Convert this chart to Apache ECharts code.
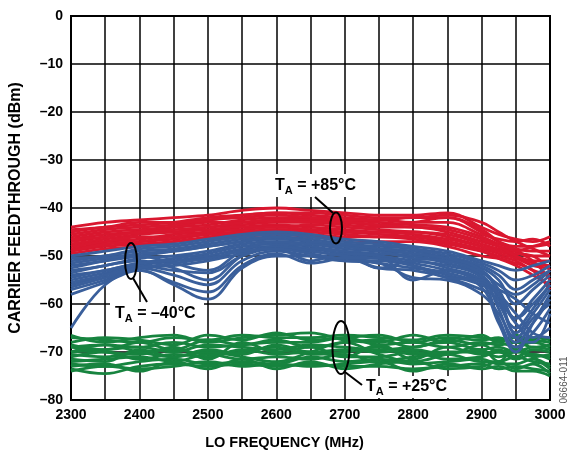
<!DOCTYPE html>
<html>
<head>
<meta charset="utf-8">
<script src="https://cdn.jsdelivr.net/npm/echarts@6/dist/echarts.min.js"></script>
<style>html,body{margin:0;padding:0;background:#fff}#c{width:569px;height:456px}</style>
</head>
<body>
<div id="c"></div>
<script>
// LO frequency sample points (MHz)
const freqs = [2300,2350,2400,2450,2500,2550,2600,2650,2700,2750,2800,2850,2900,2925,2950,2975,3000];
const xTicks = [2300,2400,2500,2600,2700,2800,2900,3000];
const yTicks = [0,-10,-20,-30,-40,-50,-60,-70,-80];

// TA = +85°C curves (dBm)
const hot = [
 [-44,-43,-42.5,-42,-41.5,-40.5,-40,-40.5,-41,-41.5,-41.5,-41,-44,-45.5,-46.5,-47,-46],
 [-45,-44,-43.5,-43,-42,-41.5,-41,-41.5,-42,-42.5,-42,-42,-45,-47,-48,-48,-47.5],
 [-46,-45,-44.5,-44,-43.5,-42.5,-42,-42,-42.5,-43,-43.5,-44,-46,-47.5,-48.5,-49,-49],
 [-47,-46,-45,-45,-44,-43.5,-43,-43,-43.5,-44,-44,-45,-47,-48,-49,-50,-50],
 [-48,-47,-46.5,-45.5,-45,-44,-43.5,-44,-44.5,-45,-45,-46,-48,-49,-50,-51,-51],
 [-48.5,-47.5,-47,-46.5,-45.5,-45,-44.5,-44.5,-45,-45.5,-46,-47,-48.5,-49.5,-50.5,-52,-52.5],
 [-49,-48,-47.5,-47,-46,-45.5,-45,-45.5,-46,-46,-46.5,-47.5,-49,-50,-51,-53,-54],
 [-49.5,-48.5,-48,-47,-46.5,-46,-45.5,-46,-46.5,-47,-47,-48,-50,-50.5,-51.5,-53,-57],
 [-46.5,-45.5,-45,-44,-43,-43,-42.5,-42.5,-43,-43.5,-43,-42,-44.5,-47,-49,-51,-55],
 [-47.5,-46.5,-45.5,-45,-44.5,-44,-44,-43.5,-44,-44.5,-45,-45.5,-47.5,-48.5,-49,-48,-47],
 [-45.5,-44.5,-44,-43.5,-42.5,-42,-41.5,-42,-42.5,-42.5,-43,-43,-45.5,-46.5,-47,-46.5,-48],
 [-48,-47,-46,-46,-45,-44.5,-44,-44.5,-45,-45,-45.5,-46.5,-48,-49,-49.5,-50,-53],
 [-44.5,-44,-43,-43,-42.5,-41.5,-41,-41,-41.5,-42,-42,-41.5,-43,-45,-47,-48.5,-50],
 [-46.5,-46,-45,-44.5,-44,-43,-42.5,-43,-43,-43.5,-44,-44.5,-46.5,-48,-50,-51.5,-52],
 [-49,-47.5,-47,-46,-45.5,-45,-44.5,-45,-45.5,-46,-46,-47,-49,-50.5,-52,-54,-56]
];

// TA = -40°C curves (dBm)
const cold = [
 [-50,-49,-48,-47.5,-46.5,-45.5,-45,-45.5,-46.5,-47,-48,-49,-51,-52,-53,-52,-51],
 [-51,-50,-49,-48.5,-47.5,-46.5,-46,-46.5,-47.5,-48,-48.5,-49.5,-51.5,-53,-55,-54,-52],
 [-52,-51,-50,-49,-48,-47,-46.5,-47,-48,-48.5,-49,-50.5,-52.5,-55,-60,-57,-54],
 [-53,-52,-50.5,-50,-49,-47.5,-47,-47.5,-48.5,-49,-49.5,-51,-53,-57,-63,-59,-55],
 [-54,-53,-51.5,-50.5,-49.5,-48,-47.5,-48,-49,-49.5,-50,-51.5,-54,-59,-66,-62,-57],
 [-55,-53.5,-52,-51,-50,-48.5,-48,-48.5,-49.5,-50,-51,-52,-54.5,-61,-68,-64,-59],
 [-56,-54,-52,-53,-53.5,-50,-48.5,-49,-50,-50.5,-51.5,-53,-55.5,-63,-69,-66,-61],
 [-57,-55,-52.5,-54,-56,-51,-49,-50,-51,-51,-52,-54,-56,-58,-62,-66,-67],
 [-58,-55.5,-53,-55.5,-57.5,-52,-49.5,-51.5,-50.5,-52.5,-53,-54.5,-57,-59,-64,-67,-65],
 [-65,-56,-53,-56,-59,-52.5,-50,-50,-51,-51.5,-54.5,-55,-58,-62,-67,-63,-60],
 [-52.5,-51,-50,-51.5,-53,-49,-47,-47.5,-48,-49,-50.5,-51,-53.5,-56,-58,-56,-53],
 [-53.5,-52,-51,-52.5,-55,-50,-48,-48.5,-49,-52.5,-51,-52.5,-55,-60,-65,-61,-56],
 [-50.5,-50,-48.5,-48,-47,-46,-45.5,-46,-47,-47.5,-48.5,-50,-52,-54,-57,-55,-53],
 [-54.5,-53,-51.5,-51,-50.5,-49,-48.5,-51,-49.5,-50,-55,-53,-55.5,-57,-59,-62,-64],
 [-51.5,-50.5,-49.5,-49,-48,-47,-46,-47,-47.5,-48.5,-49.5,-50.5,-53,-58,-67,-68,-62],
 [-56.5,-54.5,-52.5,-52,-51,-49.5,-48,-49,-50,-51.5,-52.5,-53.5,-56.5,-64,-70,-64,-58],
 [-55.5,-54,-52.5,-51.5,-50.5,-49,-48.5,-49.5,-50.5,-50.5,-52,-54.5,-55,-58,-63,-60,-56]
];

// TA = +25°C curves (dBm)
const room = [
 [-67,-67.5,-68,-67,-67.5,-66.5,-67,-67,-66.5,-67,-67.5,-66.5,-67,-67.5,-67,-67.5,-68],
 [-68,-67,-67.5,-68.5,-66.5,-67.5,-66,-67.5,-67,-66.5,-68,-67,-67.5,-67,-68,-67,-67.5],
 [-69,-68.5,-69,-68,-69,-68.5,-68,-68,-67,-68.5,-68,-69,-68,-68.5,-68,-69,-68.5],
 [-70,-69.5,-69,-70,-68.5,-69,-69.5,-68.5,-69,-69.5,-69,-68,-69.5,-69,-70,-69,-69.5],
 [-70.5,-71,-70,-69.5,-70.5,-70,-69,-70.5,-70,-69,-70.5,-70,-70,-71,-70,-70.5,-71],
 [-71,-70,-71.5,-70.5,-71,-69.5,-70.5,-70,-71,-71,-70,-71.5,-71,-70,-71.5,-70.5,-71.5],
 [-72,-71.5,-71,-72,-70.5,-71.5,-71,-71.5,-70.5,-72,-71,-70.5,-72,-72,-71,-72,-72.5],
 [-72.5,-73,-72,-71.5,-72.5,-72,-72.5,-71,-72,-71.5,-72.5,-72,-71.5,-72.5,-72.5,-71.5,-73],
 [-73.5,-74.5,-73,-72.5,-73,-72.5,-73,-72.5,-73,-73,-73.5,-73,-72.5,-73.5,-73,-73.5,-74],
 [-74,-73,-73.5,-73,-72,-73,-72.5,-73,-72.5,-72,-74,-72.5,-73.5,-73,-74,-74,-75],
 [-69,-70,-70.5,-69,-71.5,-68,-70,-69,-71,-68.5,-71.5,-69,-70.5,-69.5,-71,-69.5,-70],
 [-71.5,-72,-69.5,-71,-70,-71,-72,-70,-68,-70.5,-72,-70.5,-69.5,-72,-69,-71,-73.5],
 [-66.5,-68,-67,-66.5,-68,-67,-66.5,-66,-67.5,-68,-66.5,-68,-66.5,-68,-66.5,-68,-67],
 [-68.5,-69.5,-68,-69.5,-67.5,-68.5,-67.5,-69,-68,-67.5,-69,-67.5,-68.5,-68,-69,-68,-69],
 [-73,-72.5,-74,-72,-73.5,-71.5,-73.5,-72,-73.5,-72.5,-72,-73.5,-73,-72,-73.5,-72.5,-74.5],
 [-70,-68.5,-70,-71,-69.5,-70.5,-68.5,-70,-69.5,-70,-69.5,-70.5,-68.5,-70,-69.5,-71,-70.5]
];

const FONT = '"Liberation Sans", Arial, Helvetica, sans-serif';
const RED = '#d9172f', BLUE = '#3a5f9b', GREEN = '#17843f';

function mk(group, color) {
  return group.map(vals => ({
    type: 'line',
    data: vals.map((v, i) => [freqs[i], v]),
    showSymbol: false,
    smooth: 0.4,
    lineStyle: { color: color, width: 2.8 },
    silent: true,
    animation: false
  }));
}

const series = [].concat(mk(room, GREEN), mk(hot, RED), mk(cold, BLUE));

function tLabel(x, y, rest) {
  return {
    type: 'text', x: x, y: y, z: 100,
    style: {
      text: '{a|T}{b|A}{a|' + rest + '}',
      fill: '#000',
      verticalAlign: 'middle',
      rich: {
        a: { fontFamily: FONT, fontWeight: 'bold', fontSize: 16, fill: '#000' },
        b: { fontFamily: FONT, fontWeight: 'bold', fontSize: 11, fill: '#000', padding: [9, 0, 0, 0] }
      }
    }
  };
}

const chart = echarts.init(document.getElementById('c'), null, { renderer: 'canvas' });
chart.setOption({
  animation: false,
  backgroundColor: '#fff',
  grid: { left: 71, right: 19, top: 16, bottom: 56, show: true, borderColor: '#000', borderWidth: 2, backgroundColor: 'transparent' },
  xAxis: {
    type: 'value', min: 2300, max: 3000, interval: 50,
    axisLine: { show: false },
    axisTick: { show: false },
    splitLine: { show: true, lineStyle: { color: '#000', width: 1.5 } },
    axisLabel: {
      margin: 8, color: '#000', fontFamily: FONT, fontWeight: 'bold', fontSize: 14,
      formatter: v => xTicks.indexOf(v) >= 0 ? String(v) : ''
    }
  },
  yAxis: {
    type: 'value', min: -80, max: 0, interval: 10,
    axisLine: { show: false },
    axisTick: { show: false },
    splitLine: { show: true, lineStyle: { color: '#000', width: 1.5 } },
    axisLabel: {
      margin: 8, color: '#000', fontFamily: FONT, fontWeight: 'bold', fontSize: 14,
      formatter: v => yTicks.indexOf(v) >= 0 ? (v < 0 ? '\u2013' + Math.abs(v) : String(v)) : ''
    }
  },
  series: series,
  graphic: [
    { type: 'text', x: 284.5, y: 443, style: { text: 'LO FREQUENCY (MHz)', fontFamily: FONT, fontWeight: 'bold', fontSize: 14.5, fill: '#000', align: 'center', verticalAlign: 'middle' } },
    { type: 'text', x: 16, y: 208, rotation: Math.PI / 2, style: { text: 'CARRIER FEEDTHROUGH (dBm)', fontFamily: FONT, fontWeight: 'bold', fontSize: 16, fill: '#000', align: 'center', verticalAlign: 'middle' } },
    { type: 'text', x: 564, y: 380, rotation: Math.PI / 2, style: { text: '06664-011', fontFamily: FONT, fontSize: 10, fill: '#555', align: 'center', verticalAlign: 'middle' } },
    // label backgrounds
    { type: 'rect', z: 90, shape: { x: 271, y: 174, width: 90, height: 23 }, style: { fill: '#fff' } },
    { type: 'rect', z: 90, shape: { x: 110, y: 302, width: 94, height: 24 }, style: { fill: '#fff' } },
    { type: 'rect', z: 90, shape: { x: 362, y: 376, width: 92, height: 22 }, style: { fill: '#fff' } },
    tLabel(275, 186, ' = +85°C'),
    tLabel(115, 314, ' = \u201340°C'),
    tLabel(366, 387, ' = +25°C'),
    // ellipses and leaders
    { type: 'ellipse', z: 100, shape: { cx: 336, cy: 228, rx: 6, ry: 15.5 }, style: { fill: 'none', stroke: '#000', lineWidth: 2 } },
    { type: 'line', z: 100, shape: { x1: 315, y1: 197, x2: 333, y2: 213 }, style: { stroke: '#000', lineWidth: 2 } },
    { type: 'ellipse', z: 100, shape: { cx: 131, cy: 261, rx: 6, ry: 18 }, style: { fill: 'none', stroke: '#000', lineWidth: 2 } },
    { type: 'line', z: 100, shape: { x1: 133, y1: 278, x2: 147, y2: 302 }, style: { stroke: '#000', lineWidth: 2 } },
    { type: 'ellipse', z: 100, shape: { cx: 341, cy: 347.5, rx: 8.5, ry: 26.5 }, style: { fill: 'none', stroke: '#000', lineWidth: 2 } },
    { type: 'line', z: 100, shape: { x1: 345, y1: 372, x2: 362, y2: 385 }, style: { stroke: '#000', lineWidth: 2 } }
  ]
});
</script>
</body>
</html>
